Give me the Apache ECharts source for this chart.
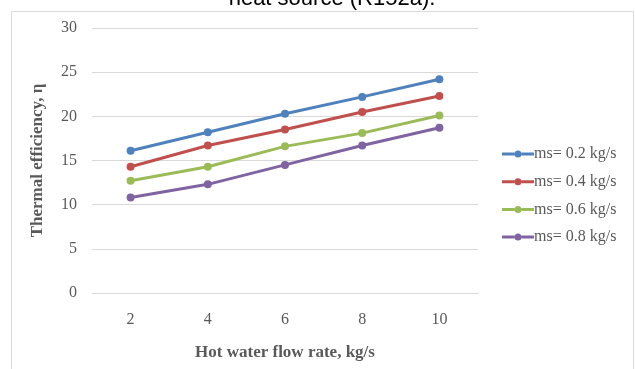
<!DOCTYPE html>
<html><head><meta charset="utf-8">
<script src="https://cdn.jsdelivr.net/npm/echarts@6/dist/echarts.min.js"></script>
<style>html,body{margin:0;padding:0;background:#fff}#c{width:635px;height:369px}</style>
</head><body><div id="c"></div>
<script>
var categories = ['2','4','6','8','10'];
var seriesNames = ['ms= 0.2 kg/s','ms= 0.4 kg/s','ms= 0.6 kg/s','ms= 0.8 kg/s'];
var ms02 = [16.1, 18.2, 20.3, 22.2, 24.2];
var ms04 = [14.3, 16.7, 18.5, 20.5, 22.3];
var ms06 = [12.7, 14.3, 16.6, 18.1, 20.1];
var ms08 = [10.8, 12.3, 14.5, 16.7, 18.7];
var colors = ['#4F81BD','#C0504D','#9BBB59','#8064A2'];
var values = [ms02, ms04, ms06, ms08];
var serif = '"Liberation Serif", "DejaVu Serif", serif';
var legendIcon = 'path://M0,5.5 L12.5,5.5 L12.5,8.5 L0,8.5 Z M12.5,7 A3.5,3.5 0 1,0 19.5,7 A3.5,3.5 0 1,0 12.5,7 Z M19.5,5.5 L32,5.5 L32,8.5 L19.5,8.5 Z';
var chart = echarts.init(document.getElementById('c'));
chart.setOption({
  animation: false,
  graphic: [
    {type:'rect', shape:{x:11.5,y:11.5,width:622,height:370}, style:{fill:'none', stroke:'#d9d9d9', lineWidth:1}},
    {type:'text', x:332, y:10, style:{text:'heat source (R152a).', font:'22px "Liberation Sans", sans-serif', fill:'#000', textAlign:'center', textVerticalAlign:'bottom'}}
  ],
  grid: {left:92, right:157, top:28, bottom:76},
  legend: {
    orient:'vertical', left:497, top:141, itemGap:11.7, itemWidth:32, itemHeight:7,
    icon: legendIcon,
    textStyle:{fontFamily:serif, fontSize:16, color:'#595959', padding:[0,0,0,-5]},
    data: seriesNames
  },
  xAxis: {
    type:'category', data:categories, boundaryGap:true,
    name:'Hot water flow rate, kg/s', nameLocation:'middle', nameGap:51,
    nameTextStyle:{fontFamily:serif, fontSize:17, fontWeight:'bold', color:'#595959'},
    axisLine:{lineStyle:{color:'#d9d9d9'}}, axisTick:{show:false},
    axisLabel:{fontFamily:serif, fontSize:16, color:'#595959', margin:19}
  },
  yAxis: {
    type:'value', min:0, max:30, interval:5,
    name:'Thermal efficiency, η', nameLocation:'middle', nameGap:46,
    nameTextStyle:{fontFamily:serif, fontSize:17, fontWeight:'bold', color:'#595959'},
    axisLine:{show:false}, axisTick:{show:false},
    axisLabel:{fontFamily:serif, fontSize:16, color:'#595959', margin:15},
    splitLine:{lineStyle:{color:'#d9d9d9'}}
  },
  series: seriesNames.map(function(n,i){
    return {name:n, type:'line', data:values[i], symbol:'circle', symbolSize:8,
      lineStyle:{width:3, color:colors[i]}, itemStyle:{color:colors[i]}};
  })
});
</script></body></html>
